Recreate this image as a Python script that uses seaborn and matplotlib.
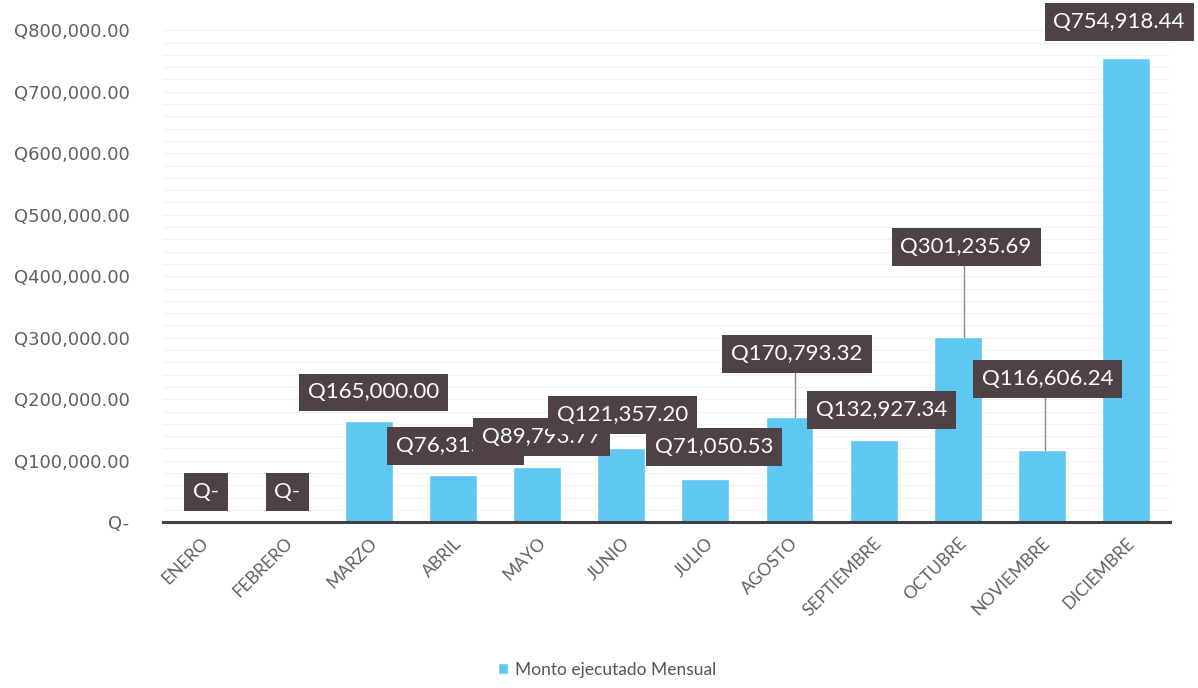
import numpy as np
import pandas as pd
import matplotlib
matplotlib.use("Agg")
import matplotlib.pyplot as plt
import seaborn as sns

months = ['ENERO', 'FEBRERO', 'MARZO', 'ABRIL', 'MAYO', 'JUNIO', 'JULIO',
          'AGOSTO', 'SEPTIEMBRE', 'OCTUBRE', 'NOVIEMBRE', 'DICIEMBRE']
monto = [0, 0, 165000.00, 76315.00, 89793.77, 121357.20, 71050.53,
         170793.32, 132927.34, 301235.69, 116606.24, 754918.44]
label_text = ['Q-', 'Q-', 'Q165,000.00', 'Q76,315.00', 'Q89,793.77', 'Q121,357.20',
              'Q71,050.53', 'Q170,793.32', 'Q132,927.34', 'Q301,235.69',
              'Q116,606.24', 'Q754,918.44']
yticks = [0, 100000, 200000, 300000, 400000, 500000, 600000, 700000, 800000]
ytick_labels = ['Q-', 'Q100,000.00', 'Q200,000.00', 'Q300,000.00', 'Q400,000.00',
                'Q500,000.00', 'Q600,000.00', 'Q700,000.00', 'Q800,000.00']

# where the dark callout boxes sit (x offset from bar centre, y in data units)
box_dx = [0.06, 0.03, 0.05, 0.03, 0.05, 0.02, 0.1, 0.09, 0.1, 0.1, 0.07, -0.08]
box_y = [48800, 48800, 211000, 123600, 138000, 174000, 122000, 273000,
         182000, 447000, 232500, 813000]
leader = [False, False, False, False, False, False, False, True, False, True, True, False]

df = pd.DataFrame({'mes': months, 'monto': monto})

sns.set_style('white')
plt.rcParams['font.family'] = ['Lato', 'DejaVu Sans']

fig = plt.figure(figsize=(11.98, 6.88), dpi=100)
ax = fig.add_axes([0.136, 0.241, 0.841, 0.715])

ax.yaxis.set_minor_locator(matplotlib.ticker.MultipleLocator(20000))
ax.grid(which='both', axis='y', color='#f2f2f2', lw=0.8)
ax.set_axisbelow(True)

sns.barplot(data=df, x='mes', y='monto', color='#5ec8f2', width=0.57,
            saturation=1, ax=ax, label='Monto ejecutado Mensual')
if ax.get_legend() is not None:
    ax.get_legend().remove()

ax.set_ylim(0, 800000)
ax.set_xlim(-0.45, 11.53)
ax.set_yticks(yticks)
ax.set_yticklabels(ytick_labels, fontsize=13, color='#606060', family='DejaVu Sans')
ax.tick_params(axis='y', length=0, pad=24)
ax.tick_params(axis='x', length=0, pad=9)
ax.tick_params(which='minor', length=0)
plt.setp(ax.get_xticklabels(), rotation=45, ha='right', rotation_mode='anchor',
         fontsize=12.5, color='#606060')
ax.set_xlabel('')
ax.set_ylabel('')
sns.despine(ax=ax, left=True)
ax.spines['bottom'].set_color('#404040')
ax.spines['bottom'].set_linewidth(2.2)

for i in range(len(months)):
    bx = i + box_dx[i]
    if leader[i]:
        ax.plot([bx - 0.03, bx - 0.03], [monto[i], box_y[i]], color='#8a8a8a', lw=1, zorder=3)
    ax.text(bx, box_y[i], label_text[i], ha='center', va='center', fontsize=16,
            color='white', zorder=4 + i, clip_on=False,
            bbox=dict(boxstyle='square,pad=0.4', fc='#4e4246', ec='none'))

handles, labels = ax.get_legend_handles_labels()
fig.legend(handles[:1], labels[:1], loc='lower center', bbox_to_anchor=(0.507, -0.008),
           frameon=False, fontsize=12.5, handlelength=0.6, handleheight=0.6,
           handletextpad=0.4, labelcolor='#555555')

fig.savefig('out.png', dpi=100, facecolor='white')
